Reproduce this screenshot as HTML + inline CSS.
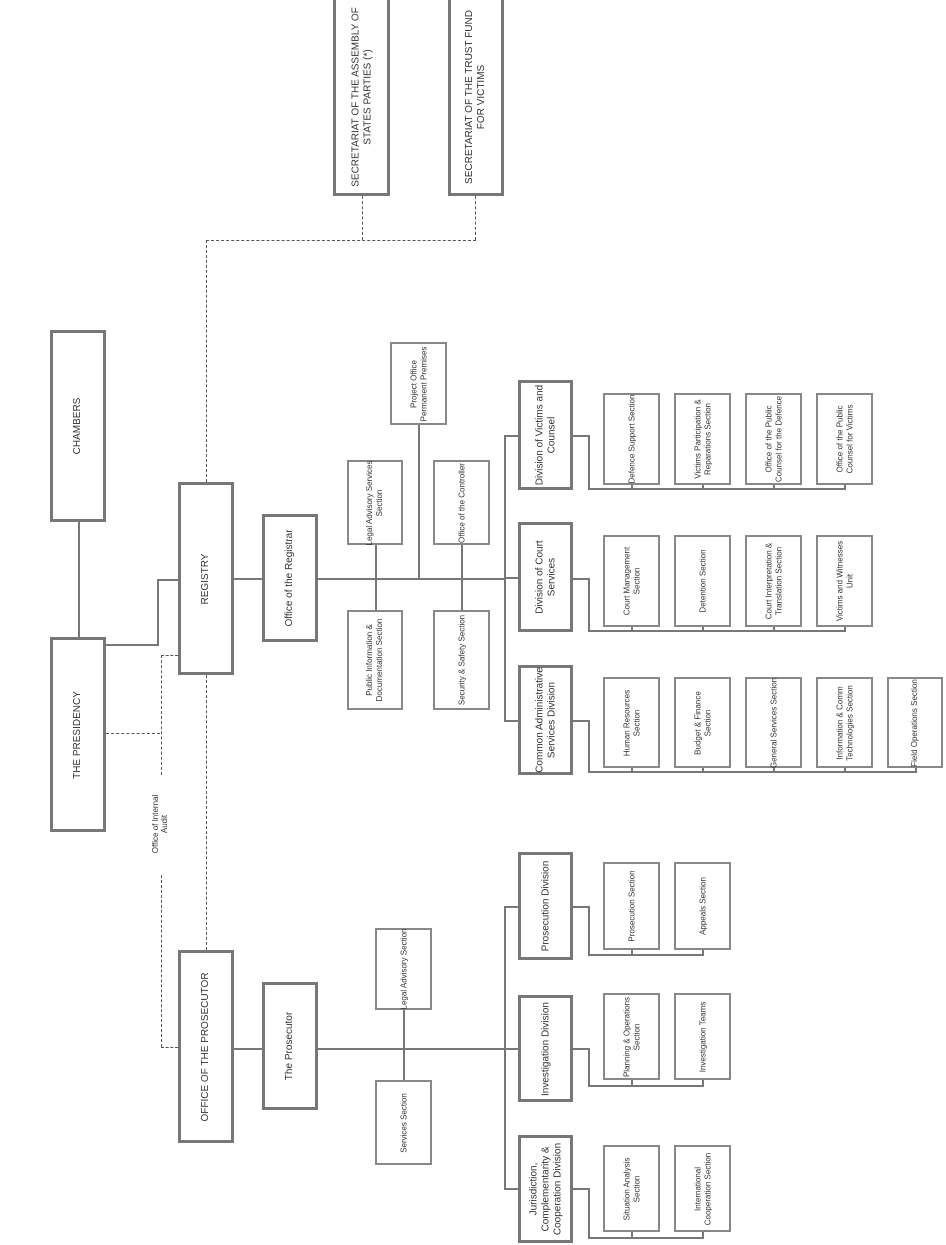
<!DOCTYPE html>
<html><head><meta charset="utf-8"><style>
body{margin:0;background:#fff;}
#c{position:relative;width:946px;height:1245px;overflow:hidden;background:#fff;font-family:"Liberation Sans",sans-serif;color:#333;}
.b{position:absolute;box-sizing:border-box;border:2px solid #888;background:#fff;}
.t{border:3px solid #777;}
.b span{position:absolute;left:50%;top:50%;transform:translate(-50%,-50%) rotate(-90deg);display:flex;align-items:center;justify-content:center;text-align:center;font-size:8px;line-height:1.2;}
.t span{font-size:10px;}
.h{position:absolute;height:2px;background:#777;}
.v{position:absolute;width:2px;background:#777;}
.dh{position:absolute;height:0;border-top:1px dashed #555;}
.dv{position:absolute;width:0;border-left:1px dashed #555;}
.lbl{position:absolute;font-size:8px;transform:rotate(-90deg);text-align:center;}
</style></head><body><div id="c">
<!-- lines -->
<div class="v" style="left:78px;top:522px;height:115px"></div>
<div class="h" style="left:106px;top:644px;width:53px"></div>
<div class="v" style="left:157px;top:579px;height:67px"></div>
<div class="h" style="left:157px;top:579px;width:21px"></div>
<div class="dv" style="left:206px;top:240px;height:242px"></div>
<div class="dh" style="left:206px;top:240px;width:270px"></div>
<div class="dv" style="left:362px;top:196px;height:44px"></div>
<div class="dv" style="left:475px;top:196px;height:44px"></div>
<div class="dh" style="left:106px;top:733px;width:54px"></div>
<div class="dv" style="left:161px;top:655px;height:120px"></div>
<div class="dh" style="left:161px;top:655px;width:17px"></div>
<div class="dv" style="left:161px;top:875px;height:172px"></div>
<div class="dh" style="left:161px;top:1047px;width:17px"></div>
<div class="dv" style="left:206px;top:675px;height:275px"></div>
<div class="lbl" style="left:125px;top:815px;width:70px">Office of Internal<br>Audit</div>
<div class="h" style="left:234px;top:578px;width:28px"></div>
<div class="h" style="left:318px;top:578px;width:187px"></div>
<div class="v" style="left:375px;top:545px;height:65px"></div>
<div class="v" style="left:461px;top:545px;height:65px"></div>
<div class="v" style="left:418px;top:425px;height:153px"></div>
<div class="v" style="left:504px;top:435px;height:286px"></div>
<div class="h" style="left:504px;top:435px;width:14px"></div>
<div class="h" style="left:504px;top:577px;width:14px"></div>
<div class="h" style="left:504px;top:720px;width:14px"></div>
<!-- brackets registry -->
<div class="h" style="left:573px;top:435px;width:16px"></div>
<div class="v" style="left:588px;top:435px;height:55px"></div>
<div class="h" style="left:588px;top:488px;width:258px"></div>
<div class="v" style="left:631px;top:485px;height:4px"></div><div class="v" style="left:702px;top:485px;height:4px"></div><div class="v" style="left:773px;top:485px;height:4px"></div><div class="v" style="left:844px;top:485px;height:4px"></div>
<div class="h" style="left:573px;top:578px;width:16px"></div>
<div class="v" style="left:588px;top:578px;height:54px"></div>
<div class="h" style="left:588px;top:630px;width:258px"></div>
<div class="v" style="left:631px;top:627px;height:4px"></div><div class="v" style="left:702px;top:627px;height:4px"></div><div class="v" style="left:773px;top:627px;height:4px"></div><div class="v" style="left:844px;top:627px;height:4px"></div>
<div class="h" style="left:573px;top:720px;width:16px"></div>
<div class="v" style="left:588px;top:720px;height:53px"></div>
<div class="h" style="left:588px;top:771px;width:329px"></div>
<div class="v" style="left:631px;top:768px;height:4px"></div><div class="v" style="left:702px;top:768px;height:4px"></div><div class="v" style="left:773px;top:768px;height:4px"></div><div class="v" style="left:844px;top:768px;height:4px"></div><div class="v" style="left:915px;top:768px;height:4px"></div>
<!-- prosecutor lines -->
<div class="h" style="left:234px;top:1048px;width:28px"></div>
<div class="h" style="left:318px;top:1048px;width:187px"></div>
<div class="v" style="left:403px;top:1010px;height:70px"></div>
<div class="v" style="left:504px;top:906px;height:283px"></div>
<div class="h" style="left:504px;top:906px;width:14px"></div>
<div class="h" style="left:504px;top:1048px;width:14px"></div>
<div class="h" style="left:504px;top:1188px;width:14px"></div>
<div class="h" style="left:573px;top:906px;width:16px"></div>
<div class="v" style="left:588px;top:906px;height:50px"></div>
<div class="h" style="left:588px;top:954px;width:116px"></div>
<div class="v" style="left:631px;top:950px;height:4px"></div><div class="v" style="left:702px;top:950px;height:4px"></div>
<div class="h" style="left:573px;top:1048px;width:16px"></div>
<div class="v" style="left:588px;top:1048px;height:39px"></div>
<div class="h" style="left:588px;top:1085px;width:116px"></div>
<div class="v" style="left:631px;top:1080px;height:5px"></div><div class="v" style="left:702px;top:1080px;height:5px"></div>
<div class="h" style="left:573px;top:1188px;width:16px"></div>
<div class="v" style="left:588px;top:1188px;height:51px"></div>
<div class="h" style="left:588px;top:1237px;width:116px"></div>
<div class="v" style="left:631px;top:1232px;height:5px"></div><div class="v" style="left:702px;top:1232px;height:5px"></div>
<!-- boxes -->
<div class="b t" style="left:50px;top:637px;width:56px;height:195px"><span style="width:195px;height:56px">THE PRESIDENCY</span></div>
<div class="b t" style="left:50px;top:330px;width:56px;height:192px"><span style="width:192px;height:56px">CHAMBERS</span></div>
<div class="b t" style="left:178px;top:482px;width:56px;height:193px"><span style="width:193px;height:56px">REGISTRY</span></div>
<div class="b t" style="left:178px;top:950px;width:56px;height:193px"><span style="width:193px;height:56px">OFFICE OF THE PROSECUTOR</span></div>
<div class="b t" style="left:333px;top:-3px;width:57px;height:199px"><span style="width:185px;height:57px">SECRETARIAT OF THE ASSEMBLY OF STATES PARTIES (*)</span></div>
<div class="b t" style="left:448px;top:-3px;width:56px;height:199px"><span style="width:185px;height:56px">SECRETARIAT OF THE TRUST FUND FOR VICTIMS</span></div>
<div class="b t" style="left:262px;top:514px;width:56px;height:128px"><span style="width:128px;height:56px">Office of the Registrar</span></div>
<div class="b" style="left:347px;top:460px;width:56px;height:85px"><span style="width:85px;height:56px">Legal Advisory Services Section</span></div>
<div class="b" style="left:347px;top:610px;width:56px;height:100px"><span style="width:100px;height:56px">Public Information &amp; Documentation Section</span></div>
<div class="b" style="left:433px;top:460px;width:57px;height:85px"><span style="width:85px;height:57px">Office of the Controller</span></div>
<div class="b" style="left:433px;top:610px;width:57px;height:100px"><span style="width:100px;height:57px">Security &amp; Safety Section</span></div>
<div class="b" style="left:390px;top:342px;width:57px;height:83px"><span style="width:83px;height:57px">Project Office Permanent Premises</span></div>
<div class="b t" style="left:518px;top:380px;width:55px;height:110px"><span style="width:110px;height:55px">Division of Victims and Counsel</span></div>
<div class="b t" style="left:518px;top:522px;width:55px;height:110px"><span style="width:110px;height:55px">Division of Court Services</span></div>
<div class="b t" style="left:518px;top:665px;width:55px;height:110px"><span style="width:110px;height:55px">Common Administrative Services Division</span></div>
<div class="b" style="left:603px;top:393px;width:57px;height:92px"><span style="width:92px;height:57px">Defence Support Section</span></div>
<div class="b" style="left:674px;top:393px;width:57px;height:92px"><span style="width:92px;height:57px">Victims Participation &amp; Reparations Section</span></div>
<div class="b" style="left:745px;top:393px;width:57px;height:92px"><span style="width:92px;height:57px">Office of the Public Counsel for the Defence</span></div>
<div class="b" style="left:816px;top:393px;width:57px;height:92px"><span style="width:92px;height:57px">Office of the Public Counsel for Victims</span></div>
<div class="b" style="left:603px;top:535px;width:57px;height:92px"><span style="width:92px;height:57px">Court Management Section</span></div>
<div class="b" style="left:674px;top:535px;width:57px;height:92px"><span style="width:92px;height:57px">Detention Section</span></div>
<div class="b" style="left:745px;top:535px;width:57px;height:92px"><span style="width:92px;height:57px">Court Interpretation &amp; Translation Section</span></div>
<div class="b" style="left:816px;top:535px;width:57px;height:92px"><span style="width:92px;height:57px">Victims and Witnesses Unit</span></div>
<div class="b" style="left:603px;top:677px;width:57px;height:91px"><span style="width:91px;height:57px">Human Resources Section</span></div>
<div class="b" style="left:674px;top:677px;width:57px;height:91px"><span style="width:91px;height:57px">Budget &amp; Finance Section</span></div>
<div class="b" style="left:745px;top:677px;width:57px;height:91px"><span style="width:91px;height:57px">General Services Section</span></div>
<div class="b" style="left:816px;top:677px;width:57px;height:91px"><span style="width:91px;height:57px">Information &amp; Comm Technologies Section</span></div>
<div class="b" style="left:887px;top:677px;width:56px;height:91px"><span style="width:91px;height:56px">Field Operations Section</span></div>
<div class="b t" style="left:262px;top:982px;width:56px;height:128px"><span style="width:128px;height:56px">The Prosecutor</span></div>
<div class="b" style="left:375px;top:928px;width:57px;height:82px"><span style="width:82px;height:57px">Legal Advisory Section</span></div>
<div class="b" style="left:375px;top:1080px;width:57px;height:85px"><span style="width:85px;height:57px">Services Section</span></div>
<div class="b t" style="left:518px;top:852px;width:55px;height:108px"><span style="width:108px;height:55px">Prosecution Division</span></div>
<div class="b t" style="left:518px;top:995px;width:55px;height:107px"><span style="width:107px;height:55px">Investigation Division</span></div>
<div class="b t" style="left:518px;top:1135px;width:55px;height:108px"><span style="width:108px;height:55px">Jurisdiction, Complementarity &amp; Cooperation Division</span></div>
<div class="b" style="left:603px;top:862px;width:57px;height:88px"><span style="width:88px;height:57px">Prosecution Section</span></div>
<div class="b" style="left:674px;top:862px;width:57px;height:88px"><span style="width:88px;height:57px">Appeals Section</span></div>
<div class="b" style="left:603px;top:993px;width:57px;height:87px"><span style="width:87px;height:57px">Planning &amp; Operations Section</span></div>
<div class="b" style="left:674px;top:993px;width:57px;height:87px"><span style="width:87px;height:57px">Investigation Teams</span></div>
<div class="b" style="left:603px;top:1145px;width:57px;height:87px"><span style="width:87px;height:57px">Situation Analysis Section</span></div>
<div class="b" style="left:674px;top:1145px;width:57px;height:87px"><span style="width:87px;height:57px">International Cooperation Section</span></div>
</div></body></html>
